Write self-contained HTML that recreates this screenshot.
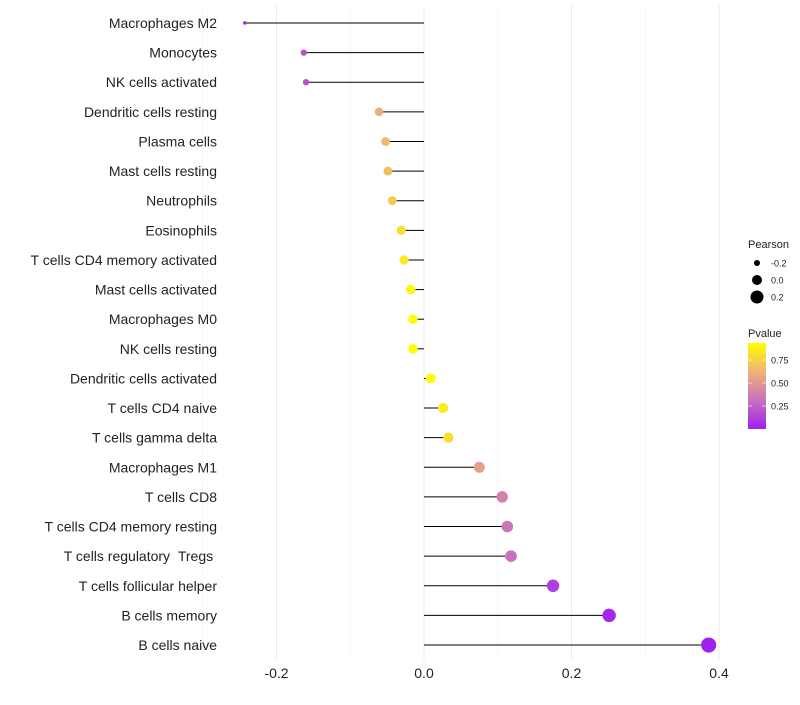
<!DOCTYPE html>
<html><head><meta charset="utf-8"><style>
body{margin:0;background:#fff;font-family:"Liberation Sans",sans-serif}
</style></head><body>
<svg id="c" width="800" height="700" xmlns="http://www.w3.org/2000/svg">
<defs><linearGradient id="pg" x1="0" y1="1" x2="0" y2="0">
<stop offset="0" stop-color="#a020f0"/><stop offset="0.33" stop-color="#c870c0"/><stop offset="0.66" stop-color="#f0b078"/><stop offset="1" stop-color="#ffff00"/>
</linearGradient></defs>
</svg>
<script>
const cells=["Macrophages M2","Monocytes","NK cells activated","Dendritic cells resting","Plasma cells","Mast cells resting","Neutrophils","Eosinophils","T cells CD4 memory activated","Mast cells activated","Macrophages M0","NK cells resting","Dendritic cells activated","T cells CD4 naive","T cells gamma delta","Macrophages M1","T cells CD8","T cells CD4 memory resting","T cells regulatory\u00a0\u00a0Tregs\u00a0","T cells follicular helper","B cells memory","B cells naive"];
const pearson=[-0.243,-0.163,-0.160,-0.061,-0.052,-0.049,-0.043,-0.031,-0.027,-0.018,-0.015,-0.015,0.009,0.026,0.033,0.075,0.106,0.113,0.118,0.175,0.251,0.386];
const pvalue=[0.04,0.2,0.2,0.62,0.66,0.68,0.72,0.8,0.85,0.9,0.92,0.92,0.95,0.85,0.8,0.55,0.4,0.35,0.33,0.15,0.06,0.03];
const xticks=[-0.2,0,0.2,0.4];
const svg=document.getElementById('c');const NS="http://www.w3.org/2000/svg";
const X=v=>424+v*737.5; const Y=i=>23+i*29.62;
function mk(t,a,p){const e=document.createElementNS(NS,t);for(const k in a)e.setAttribute(k,a[k]);(p||svg).appendChild(e);return e;}
function lerp(a,b,t){return a.map((v,i)=>Math.round(v+(b[i]-v)*t));}
const stops=[[0,[160,32,240]],[0.33,[200,112,192]],[0.66,[240,176,120]],[1,[255,255,0]]];
function col(p){let t=(p-0.03)/(0.93-0.03);t=Math.max(0,Math.min(1,t));for(let i=0;i<3;i++){if(t<=stops[i+1][0]){const c=lerp(stops[i][1],stops[i+1][1],(t-stops[i][0])/(stops[i+1][0]-stops[i][0]));return `rgb(${c})`;}}return 'rgb(255,255,0)';}
const rad=v=>Math.sqrt(3+(v+0.243)/0.629*54);
// grid
[-0.3,-0.1,0.1,0.3].forEach(v=>{const g=mk('line',{x1:X(v),x2:X(v),y1:5,y2:660,stroke:'#f3f3f3','stroke-width':0.6});});
xticks.forEach(v=>{const g=mk('line',{x1:X(v),x2:X(v),y1:5,y2:660,stroke:'#ebebeb','stroke-width':1});
const t=mk('text',{x:X(v),y:678,'text-anchor':'middle','font-size':14,fill:'#222'});t.textContent=v===0?'0.0':String(v);});
cells.forEach((c,i)=>{const y=Y(i);
const t=mk('text',{x:217,y:y+5,'text-anchor':'end','font-size':14,fill:'#222'});t.textContent=c;
const l=mk('line',{x1:X(0),x2:X(pearson[i]),y1:y,y2:y,stroke:'#000','stroke-width':1});
const d=mk('circle',{cx:X(pearson[i]),cy:y,r:rad(pearson[i]),fill:col(pvalue[i])});});
// legend
const lg=mk('g',{});
mk('text',{x:748,y:248,'font-size':11,fill:'#222'},lg).textContent='Pearson';
[[-0.2,3,263],[0,5,280],[0.2,6.5,297]].forEach(a=>{mk('circle',{cx:757,cy:a[2],r:a[1],fill:'#000'},lg);mk('text',{x:771,y:a[2]+3.5,'font-size':9,fill:'#222'},lg).textContent=a[0]===0?'0.0':String(a[0]);});
mk('text',{x:748,y:337,'font-size':11,fill:'#222'},lg).textContent='Pvalue';
mk('rect',{x:748,y:343,width:18,height:86,fill:'url(#pg)'},lg);
[[0.75,360],[0.50,383],[0.25,406]].forEach(a=>{mk('line',{x1:748,x2:752,y1:a[1],y2:a[1],stroke:'#fff','stroke-opacity':0.6},lg);mk('line',{x1:762,x2:766,y1:a[1],y2:a[1],stroke:'#fff','stroke-opacity':0.6},lg);mk('text',{x:771,y:a[1]+3.5,'font-size':9,fill:'#222'},lg).textContent=a[0].toFixed(2);});
</script>
</body></html>
